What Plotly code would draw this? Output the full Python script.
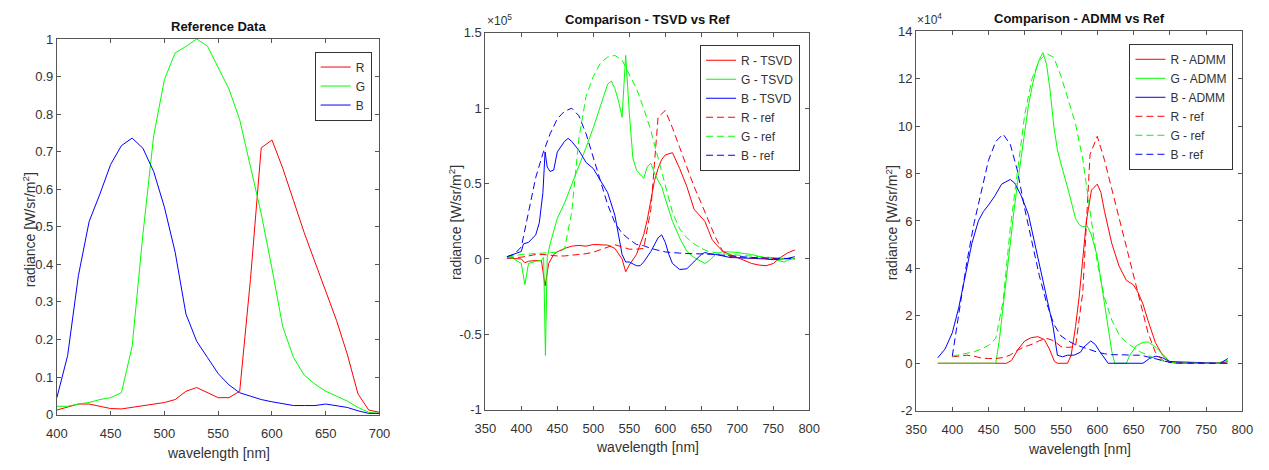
import plotly.graph_objects as go

# ---------------- Panel 1: reference data ----------------
wl_ref = [400, 410, 420, 430, 440, 450, 460, 470, 480, 490, 500, 510, 520, 530, 540, 550,
          560, 570, 580, 590, 600, 610, 620, 630, 640, 650, 660, 670, 680, 690, 700]
ref_R = [0.012, 0.019, 0.028, 0.028, 0.021, 0.016, 0.015, 0.019, 0.023, 0.028,
         0.032, 0.040, 0.062, 0.072, 0.058, 0.045, 0.045, 0.062, 0.36, 0.71,
         0.731, 0.656, 0.57, 0.484, 0.406, 0.329, 0.251, 0.161, 0.055, 0.012, 0.006]
ref_G = [0.022, 0.022, 0.028, 0.032, 0.040, 0.045, 0.058, 0.182, 0.48, 0.742,
         0.892, 0.963, 0.98, 1.0, 0.981, 0.923, 0.867, 0.785, 0.656, 0.535,
         0.389, 0.234, 0.152, 0.105, 0.081, 0.062, 0.049, 0.036, 0.019, 0.006, 0.003]
ref_B = [0.045, 0.157, 0.37, 0.514, 0.587, 0.666, 0.716, 0.736, 0.709, 0.647,
         0.552, 0.432, 0.268, 0.195, 0.152, 0.109, 0.079, 0.058, 0.049, 0.040,
         0.034, 0.028, 0.024, 0.024, 0.024, 0.028, 0.024, 0.019, 0.010, 0.003, 0.003]

# ---------------- Panel 2: TSVD vs Ref (units of 1e5) ----------------
tsvd_R_wl = [380, 390, 400, 405, 410, 420, 428, 433, 438, 445, 450, 460, 470, 480, 490, 500,
             510, 520, 530, 540, 545, 550, 560, 570, 575, 580, 585, 590, 595, 600, 610, 620,
             630, 640, 650, 655, 660, 665, 670, 680, 690, 700, 710, 720, 730, 740, 750, 760,
             770, 780]
tsvd_R = [0.006, 0.004, 0.0, -0.025, -0.015, -0.01, -0.012, -0.18, -0.03, 0.03, 0.047, 0.07,
          0.085, 0.09, 0.085, 0.096, 0.096, 0.092, 0.07, 0.0, -0.085, -0.04, 0.03, 0.16, 0.26,
          0.38, 0.52, 0.60, 0.66, 0.69, 0.705, 0.6, 0.48, 0.33, 0.28, 0.25, 0.19, 0.13, 0.10,
          0.05, 0.03, 0.01, -0.01, -0.03, -0.04, -0.045, -0.03, 0.01, 0.04, 0.06]
tsvd_G_wl = [380, 390, 400, 405, 410, 420, 428, 431, 433.5, 436, 440, 443, 450, 460, 470, 480,
             490, 500, 510, 520, 525, 530, 535, 540, 545, 550, 555, 560, 570, 575, 580, 585,
             590, 595, 600, 610, 620, 630, 640, 650, 655, 660, 670, 680, 690, 700, 710, 720,
             730, 740, 750, 760, 765, 770, 780]
tsvd_G = [0.01, 0.0, -0.03, -0.17, -0.03, -0.015, -0.01, 0.01, -0.64, 0.01, 0.1, 0.15,
          0.27, 0.37, 0.49, 0.61, 0.74, 0.87, 1.02, 1.16, 1.18, 1.13, 1.05, 0.94, 1.35, 0.97,
          0.67, 0.59, 0.535, 0.61, 0.636, 0.57, 0.52, 0.48, 0.40, 0.25, 0.14, 0.05, 0.01,
          -0.02, -0.03, -0.015, 0.03, 0.05, 0.047, 0.043, 0.036, 0.03, 0.017, 0.0, 0.0,
          -0.01, -0.02, -0.008, 0.004]
tsvd_B_wl = [380, 390, 400, 403, 410, 420, 425, 430, 433, 436, 440, 445, 450, 460, 465, 470,
             480, 490, 500, 510, 520, 530, 535, 540, 545, 550, 560, 565, 570, 580, 590, 595,
             600, 605, 610, 620, 630, 640, 650, 655, 660, 670, 680, 690, 700, 720, 740, 750,
             760, 770, 780]
tsvd_B = [0.015, 0.03, 0.05, 0.1, 0.11, 0.16, 0.24, 0.44, 0.71, 0.61, 0.58, 0.59, 0.71,
          0.78, 0.80, 0.78, 0.72, 0.64, 0.60, 0.52, 0.44, 0.29, 0.17, 0.03, -0.02, -0.02,
          -0.045, -0.045, -0.02, 0.05, 0.14, 0.16, 0.11, 0.03, -0.03, -0.07, -0.065, -0.02,
          0.03, 0.043, 0.036, 0.03, 0.02, 0.01, 0.008, 0.006, 0.0, -0.005, -0.002, 0.004, 0.015]

wl_cmp2 = [380, 390, 400, 410, 420, 430, 440, 450, 460, 470, 480, 490, 500, 510, 520, 530,
           540, 550, 560, 570, 580, 590, 600, 610, 620, 630, 640, 650, 660, 670, 680, 690,
           700, 710, 720, 730, 740, 750, 760, 770, 780]
ref2_R = [0.005, 0.008, 0.012, 0.02, 0.03, 0.03, 0.025, 0.02, 0.02, 0.025, 0.03, 0.035,
          0.045, 0.06, 0.08, 0.095, 0.08, 0.065, 0.065, 0.07, 0.33, 0.94, 0.985, 0.87, 0.74,
          0.61, 0.48, 0.37, 0.26, 0.14, 0.05, 0.017, 0.01, 0.008, 0.006, 0.005, 0.004, 0.003,
          0.002, 0.001, 0.001]
ref2_G = [0.01, 0.02, 0.03, 0.033, 0.035, 0.037, 0.04, 0.045, 0.065, 0.31, 0.80, 1.08, 1.21,
          1.30, 1.34, 1.35, 1.32, 1.23, 1.13, 1.0, 0.85, 0.67, 0.48, 0.31, 0.20, 0.14, 0.10,
          0.07, 0.05, 0.04, 0.035, 0.03, 0.025, 0.022, 0.02, 0.015, 0.01, 0.008, 0.005, 0.003, 0.0]
ref2_B = [0.015, 0.03, 0.08, 0.32, 0.54, 0.70, 0.83, 0.93, 0.98, 1.0, 0.95, 0.83, 0.67, 0.51,
          0.36, 0.24, 0.17, 0.13, 0.096, 0.088, 0.07, 0.058, 0.047, 0.042, 0.038, 0.036, 0.035,
          0.034, 0.033, 0.03, 0.025, 0.02, 0.015, 0.012, 0.01, 0.008, 0.006, 0.005, 0.004,
          0.003, 0.002]

# ---------------- Panel 3: ADMM vs Ref (units of 1e4) ----------------
admm_R_wl = [380, 475, 482, 491, 500, 509, 518, 527, 534, 541, 545, 559, 564, 570, 575, 580,
             585, 592, 600, 605, 610, 620, 630, 640, 650, 656, 663, 670, 680, 690, 700, 710,
             770, 780]
admm_R = [0, 0, 0.13, 0.6, 0.94, 1.08, 1.12, 1.0, 0.6, 0.07, 0, 0, 0.34, 1.55, 2.8, 4.5,
          6.0, 7.3, 7.55, 7.2, 6.4, 5.05, 4.1, 3.5, 3.3, 3.0, 2.5, 1.8, 0.88, 0.34, 0.07, 0,
          0, 0.07]
admm_G_wl = [380, 460, 465, 470, 475, 480, 485, 490, 495, 500, 505, 510, 515, 520, 525, 530,
             535, 540, 545, 550, 555, 560, 565, 570, 575, 580, 586, 592, 600, 605, 610, 615,
             620, 624, 640, 645, 654, 663, 670, 681, 690, 700, 710, 765, 770, 780]
admm_G = [0, 0, 1.0, 2.36, 3.7, 5.2, 6.4, 7.6, 8.7, 9.9, 10.85, 11.65, 12.33, 12.8, 13.1,
          12.6, 11.5, 10.0, 9.0, 8.4, 7.9, 7.3, 6.7, 6.1, 5.85, 5.75, 5.8, 5.4, 4.5, 3.5,
          2.4, 1.3, 0.5, 0, 0, 0.34, 0.74, 0.88, 0.9, 0.67, 0.4, 0.07, 0, 0, 0.05, 0.13]
admm_B_wl = [380, 390, 400, 409, 418, 427, 436, 443, 450, 459, 468, 480, 486, 495, 505, 514,
             523, 532, 539, 545, 552, 559, 568, 577, 581, 591, 597, 604, 610, 615, 663, 672,
             681, 690, 700, 770, 780]
admm_B = [0.23, 0.6, 1.28, 2.36, 3.7, 5.05, 6.0, 6.4, 6.67, 7.07, 7.55, 7.75, 7.6, 7.07,
          6.27, 5.05, 3.84, 2.63, 1.55, 0.34, 0.27, 0.34, 0.34, 0.47, 0.67, 0.94, 0.8, 0.47,
          0.2, 0, 0, 0.2, 0.3, 0.23, 0.07, 0, 0.2]

wl_cmp3 = [400, 410, 420, 430, 440, 450, 460, 470, 480, 490, 500, 510, 520, 530, 540, 550,
           560, 570, 580, 590, 600, 610, 620, 630, 640, 650, 660, 670, 680, 690, 700, 710,
           720, 730, 740, 750, 760, 770, 780]
ref3_R = [0.27, 0.32, 0.34, 0.3, 0.22, 0.2, 0.2, 0.24, 0.35, 0.55, 0.7, 0.8, 0.95, 1.05,
          0.95, 0.7, 0.67, 0.7, 3.0, 8.8, 9.57, 8.56, 7.35, 6.13, 4.9, 3.7, 2.5, 1.28, 0.47,
          0.13, 0.03, 0.01, 0.01, 0, 0, 0, 0, 0, 0]
ref3_G = [0.3, 0.35, 0.4, 0.48, 0.6, 0.75, 1.05, 2.6, 5.7, 8.2, 10.5, 12.0, 12.75, 13.05,
          12.9, 12.1, 11.1, 10.1, 8.6, 6.4, 4.25, 2.76, 1.82, 1.21, 0.88, 0.67, 0.47, 0.34,
          0.2, 0.1, 0.03, 0.01, 0, 0, 0, 0, 0, 0, 0]
ref3_B = [0.3, 2.2, 4.25, 5.9, 7.3, 8.56, 9.35, 9.66, 9.23, 8.1, 6.5, 5.1, 3.7, 2.55, 1.65,
          1.15, 0.94, 0.78, 0.67, 0.55, 0.47, 0.4, 0.36, 0.36, 0.34, 0.34, 0.34, 0.27, 0.18,
          0.1, 0.04, 0.01, 0, 0, 0, 0, 0, 0, 0]

# tick labels
y1_ticks = [0, 0.1, 0.2, 0.3, 0.4, 0.5, 0.6, 0.7, 0.8, 0.9, 1]
y1_labels = ["0", "0.1", "0.2", "0.3", "0.4", "0.5", "0.6", "0.7", "0.8", "0.9", "1"]
y2_ticks = [-1, -0.5, 0, 0.5, 1, 1.5]
y2_labels = ["-1", "-0.5", "0", "0.5", "1", "1.5"]
y3_ticks = [-2, 0, 2, 4, 6, 8, 10, 12, 14]
y3_labels = ["-2", "0", "2", "4", "6", "8", "10", "12", "14"]

W, H = 1269, 470
FONT = "Liberation Sans Narrow, Arial Narrow, Liberation Sans, Arial, sans-serif"
RED, GREEN, BLUE = "rgb(255,0,0)", "rgb(0,255,0)", "rgb(0,0,255)"
DASH = "7px,4px"

fig = go.Figure()


def add(x, y, name, color, axis, legend, dash="solid"):
    fig.add_trace(go.Scatter(
        x=x, y=y, name=name, mode="lines",
        line=dict(color=color, width=1, dash=dash),
        xaxis="x" + axis, yaxis="y" + axis, legend=legend))


add(wl_ref, ref_R, "R", RED, "", "legend")
add(wl_ref, ref_G, "G", GREEN, "", "legend")
add(wl_ref, ref_B, "B", BLUE, "", "legend")

add(tsvd_R_wl, tsvd_R, "R - TSVD", RED, "2", "legend2")
add(tsvd_G_wl, tsvd_G, "G - TSVD", GREEN, "2", "legend2")
add(tsvd_B_wl, tsvd_B, "B - TSVD", BLUE, "2", "legend2")
add(wl_cmp2, ref2_R, "R - ref", RED, "2", "legend2", DASH)
add(wl_cmp2, ref2_G, "G - ref", GREEN, "2", "legend2", DASH)
add(wl_cmp2, ref2_B, "B - ref", BLUE, "2", "legend2", DASH)

add(admm_R_wl, admm_R, "R - ADMM", RED, "3", "legend3")
add(admm_G_wl, admm_G, "G - ADMM", GREEN, "3", "legend3")
add(admm_B_wl, admm_B, "B - ADMM", BLUE, "3", "legend3")
add(wl_cmp3, ref3_R, "R - ref", RED, "3", "legend3", DASH)
add(wl_cmp3, ref3_G, "G - ref", GREEN, "3", "legend3", DASH)
add(wl_cmp3, ref3_B, "B - ref", BLUE, "3", "legend3", DASH)

AX = "#555555"
TXT = "#333333"


def px_x(p):
    return p / W


def px_y(p):
    return 1 - p / H


def xax(left, right, rng, anchor):
    return dict(domain=[px_x(left), px_x(right)], range=rng, dtick=50, tick0=0,
                showline=True, linecolor=AX, linewidth=1, mirror="ticks",
                ticks="inside", ticklen=4, tickcolor=AX, showgrid=False, zeroline=False,
                ticklabelstandoff=7,
                tickfont=dict(size=13, color=TXT, family=FONT), anchor=anchor)


def yax(top, bottom, rng, tv, tt, anchor):
    return dict(domain=[px_y(bottom), px_y(top)], range=rng, tickvals=tv, ticktext=tt,
                showline=True, linecolor=AX, linewidth=1, mirror="ticks",
                ticks="inside", ticklen=4, tickcolor=AX, showgrid=False, zeroline=False,
                tickfont=dict(size=13, color=TXT, family=FONT), anchor=anchor)


def leg(right, top):
    return dict(x=px_x(right), y=px_y(top), xanchor="right", yanchor="top",
                bgcolor="white", bordercolor="#333333", borderwidth=1,
                font=dict(size=12, color=TXT, family=FONT), itemwidth=30,
                tracegroupgap=0)


annotations = []


def text(s, x, y, size=13, bold=False, angle=0, xanchor="center", yanchor="middle"):
    annotations.append(dict(
        text=("<b>%s</b>" % s) if bold else s, x=px_x(x), y=px_y(y),
        xref="paper", yref="paper", showarrow=False, textangle=angle,
        xanchor=xanchor, yanchor=yanchor,
        font=dict(size=size, color="#111111" if bold else TXT, family=FONT)))


text("Reference Data", 211, 20, 13, True)
text("Comparison - TSVD vs Ref", 648, 13, 13, True)
text("Comparison - ADMM vs Ref", 1087, 12, 13, True)
text("wavelength [nm]", 211, 461, 14)
text("wavelength [nm]", 648, 455, 14)
text("wavelength [nm]", 1087, 457, 14)
text("radiance [W/sr/m<sup>2</sup>]", 18, 230, 14, angle=-90)
text("radiance [W/sr/m<sup>2</sup>]", 452, 223, 14, angle=-90)
text("radiance [W/sr/m<sup>2</sup>]", 896, 223, 14, angle=-90)
text("\u00d710<sup>5</sup>", 482, 24, 12, xanchor="left", yanchor="bottom")
text("\u00d710<sup>4</sup>", 920, 23, 12, xanchor="left", yanchor="bottom")

fig.update_layout(
    width=W, height=H, margin=dict(l=0, r=0, t=0, b=0),
    paper_bgcolor="white", plot_bgcolor="white",
    font=dict(family=FONT, color=TXT),
    showlegend=True,
    xaxis=xax(46.7, 375, [400, 700], "y"),
    yaxis=yax(33, 421, [0, 1], y1_ticks, y1_labels, "x"),
    xaxis2=xax(482.7, 812.3, [350, 800], "y2"),
    yaxis2=yax(26.7, 416, [-1, 1.5], y2_ticks, y2_labels, "x2"),
    xaxis3=xax(921, 1253, [350, 800], "y3"),
    yaxis3=yax(25, 417, [-2, 14], y3_ticks, y3_labels, "x3"),
    legend=leg(367, 46),
    legend2=leg(803, 39),
    legend3=leg(1244, 38),
    annotations=annotations,
)

fig.write_html("out.html")
